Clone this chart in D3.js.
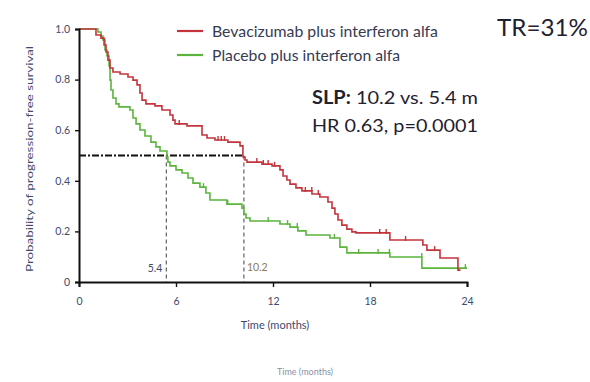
<!DOCTYPE html>
<html>
<head>
<meta charset="utf-8">
<script src="https://cdn.jsdelivr.net/npm/d3@7"></script>
<style>
  html, body { margin: 0; padding: 0; background: #fff; }
  svg { display: block; }
</style>
</head>
<body>
<svg id="chart" width="590" height="382"></svg>
<script>
// Kaplan–Meier progression-free survival, two arms
const bevTime = [0, 1.05, 1.36, 1.55, 1.67, 1.79, 1.92, 2.10, 2.54, 3.03, 3.34, 3.59, 3.77, 3.90, 4.14, 4.70, 5.13, 5.63, 5.81, 5.94, 6.68, 7.61, 7.92, 8.41, 9.21, 9.96, 10.14, 10.27, 10.39, 11.32, 11.94, 12.43, 12.62, 12.86, 13.05, 13.42, 13.79, 14.41, 14.90, 15.40, 15.65, 15.83, 16.02, 16.26, 16.57, 16.88, 17.13, 19.23, 21.27, 21.52, 22.33, 23.44, 23.6];
const bevSurv = [1.0, 0.976, 0.964, 0.937, 0.909, 0.877, 0.846, 0.830, 0.822, 0.810, 0.798, 0.779, 0.747, 0.719, 0.704, 0.696, 0.680, 0.660, 0.640, 0.625, 0.617, 0.581, 0.569, 0.561, 0.553, 0.538, 0.494, 0.482, 0.474, 0.466, 0.459, 0.443, 0.419, 0.403, 0.387, 0.372, 0.360, 0.348, 0.336, 0.316, 0.292, 0.269, 0.245, 0.225, 0.209, 0.198, 0.194, 0.166, 0.146, 0.126, 0.095, 0.047, 0.047];
const bevCensor = [6.2, 8.6, 8.8, 9.0, 11.0, 11.4, 11.7, 12.1, 14.0, 14.4, 14.8, 18.6, 19.0, 20.2, 22.0];

const pboTime = [0, 1.17, 1.36, 1.48, 1.61, 1.73, 1.86, 1.92, 1.98, 2.10, 2.29, 2.47, 3.15, 3.34, 3.53, 3.77, 4.08, 4.45, 4.76, 5.01, 5.44, 5.50, 5.63, 6.00, 6.37, 6.74, 7.05, 7.48, 7.85, 8.10, 9.15, 10.08, 10.20, 10.33, 10.58, 12.43, 13.05, 13.54, 14.04, 15.52, 16.14, 16.57, 19.23, 21.21, 24.0];
const pboSurv = [1.0, 0.988, 0.972, 0.957, 0.917, 0.893, 0.854, 0.798, 0.759, 0.727, 0.704, 0.692, 0.680, 0.648, 0.625, 0.601, 0.577, 0.553, 0.534, 0.518, 0.494, 0.474, 0.459, 0.443, 0.431, 0.411, 0.391, 0.375, 0.352, 0.324, 0.308, 0.292, 0.269, 0.253, 0.241, 0.229, 0.217, 0.202, 0.186, 0.174, 0.138, 0.115, 0.099, 0.055, 0.055];
const pboCensor = [7.7, 9.2, 11.7, 12.9, 13.5, 15.8, 17.3, 18.5, 19.2, 21.2, 23.9];

const medians = [5.4, 10.2];
const medianLabels = ["5.4", "10.2"];
const yTicks = [0, 0.2, 0.4, 0.6, 0.8, 1.0];
const xTicks = [0, 6, 12, 18, 24];
const legendLabels = ["Bevacizumab plus interferon alfa", "Placebo plus interferon alfa"];

const RED = "#c4343c", GREEN = "#5bb53d", LABEL = "#404a6c", DARK = "#1f2230";

const svg = d3.select("#chart");
svg.append("rect").attr("width", 590).attr("height", 382).attr("fill", "#fff");

const x = d3.scaleLinear().domain([0, 24]).range([79, 467]);
const y = d3.scaleLinear().domain([0, 1]).range([282, 29]);

// survival value at time t for a step curve
function survAt(times, surv, t) {
  let s = surv[0];
  for (let i = 0; i < times.length; i++) if (times[i] <= t) s = surv[i];
  return s;
}

// median reference lines
svg.append("line")
  .attr("x1", x(0)).attr("x2", x(medians[1]))
  .attr("y1", y(0.5)).attr("y2", y(0.5))
  .attr("stroke", "#111").attr("stroke-width", 1.8)
  .attr("stroke-dasharray", "7,2,2,2");
medians.forEach((m, i) => {
  svg.append("line")
    .attr("x1", x(m)).attr("x2", x(m))
    .attr("y1", y(0.5)).attr("y2", y(0))
    .attr("stroke", "#555").attr("stroke-width", 1.1)
    .attr("stroke-dasharray", "4,3");
});
svg.append("text").attr("x", x(medians[0]) - 4).attr("y", 272)
  .attr("text-anchor", "end").attr("font-family", "Lato, sans-serif")
  .attr("font-size", 10.5).attr("fill", LABEL).text(medianLabels[0]);
svg.append("text").attr("x", x(medians[1]) + 3).attr("y", 271)
  .attr("font-family", "Lato, sans-serif")
  .attr("font-size", 10.5).attr("fill", "#8a7a5a").text(medianLabels[1]);

// curves
const line = d3.line().x(d => x(d[0])).y(d => y(d[1])).curve(d3.curveStepAfter);
const series = [
  { t: pboTime, s: pboSurv, c: pboCensor, color: GREEN },
  { t: bevTime, s: bevSurv, c: bevCensor, color: RED }
];
series.forEach(sr => {
  const pts = sr.t.map((t, i) => [t, sr.s[i]]);
  svg.append("path").datum(pts).attr("d", line)
    .attr("fill", "none").attr("stroke", sr.color).attr("stroke-width", 1.6);
  svg.selectAll(null).data(sr.c).enter().append("line")
    .attr("x1", d => x(d)).attr("x2", d => x(d))
    .attr("y1", d => y(survAt(sr.t, sr.s, d)) - 4)
    .attr("y2", d => y(survAt(sr.t, sr.s, d)) + 1)
    .attr("stroke", sr.color).attr("stroke-width", 1.4);
});

// axes
const yAxis = svg.append("g").attr("transform", `translate(${x(0)},0)`)
  .call(d3.axisLeft(y).tickValues(yTicks).tickSize(4).tickPadding(5)
    .tickFormat(d => d === 0 ? "0" : d.toFixed(1)));
const xAxis = svg.append("g").attr("transform", `translate(0,${y(0)})`)
  .call(d3.axisBottom(x).tickValues(xTicks).tickSize(5).tickPadding(11)
    .tickFormat(d3.format("d")));
[yAxis, xAxis].forEach(g => {
  g.select(".domain").attr("stroke", "#111").attr("stroke-width", 2);
  g.selectAll(".tick line").attr("stroke", "#111").attr("stroke-width", 1.4);
  g.selectAll(".tick text").attr("fill", LABEL)
    .attr("font-family", "Lato, sans-serif").attr("font-size", 10.5);
});

// axis titles
svg.append("text").attr("x", 275).attr("y", 329).attr("text-anchor", "middle")
  .attr("font-family", "Lato, sans-serif").attr("font-size", 11)
  .attr("fill", LABEL).text("Time (months)");
svg.append("text").attr("x", 305).attr("y", 375).attr("text-anchor", "middle")
  .attr("font-family", "Lato, sans-serif").attr("font-size", 9)
  .attr("fill", "#8a90a6").text("Time (months)");
svg.append("text")
  .attr("transform", "translate(33,159) rotate(-90)")
  .attr("text-anchor", "middle")
  .attr("font-family", "Lato, sans-serif").attr("font-size", 10)
  .attr("textLength", 226).attr("lengthAdjust", "spacingAndGlyphs")
  .attr("fill", LABEL).text("Probability of progression-free survival");

// legend
[RED, GREEN].forEach((c, i) => {
  const ly = 31 + i * 24;
  svg.append("line").attr("x1", 177).attr("x2", 203).attr("y1", ly).attr("y2", ly)
    .attr("stroke", c).attr("stroke-width", 2.2);
  svg.append("text").attr("x", 212).attr("y", ly + 5.5)
    .attr("font-family", "Lato, sans-serif").attr("font-size", 16)
    .attr("textLength", i === 0 ? 226 : 188).attr("lengthAdjust", "spacingAndGlyphs")
    .attr("fill", "#363b55").text(legendLabels[i]);
});

// annotations
svg.append("text").attr("x", 497).attr("y", 36)
  .attr("font-family", "Lato, sans-serif").attr("font-size", 24)
  .attr("textLength", 91).attr("lengthAdjust", "spacingAndGlyphs")
  .attr("fill", DARK).text("TR=31%");
const slp = svg.append("text").attr("x", 312).attr("y", 104)
  .attr("font-family", "Lato, sans-serif").attr("font-size", 18)
  .attr("textLength", 166).attr("lengthAdjust", "spacingAndGlyphs")
  .attr("fill", DARK);
slp.append("tspan").attr("font-weight", "bold").text("SLP:");
slp.append("tspan").text(" 10.2 vs. 5.4 m");
svg.append("text").attr("x", 312).attr("y", 132)
  .attr("font-family", "Lato, sans-serif").attr("font-size", 18)
  .attr("textLength", 166).attr("lengthAdjust", "spacingAndGlyphs")
  .attr("fill", DARK).text("HR 0.63, p=0.0001");
</script>
</body>
</html>
